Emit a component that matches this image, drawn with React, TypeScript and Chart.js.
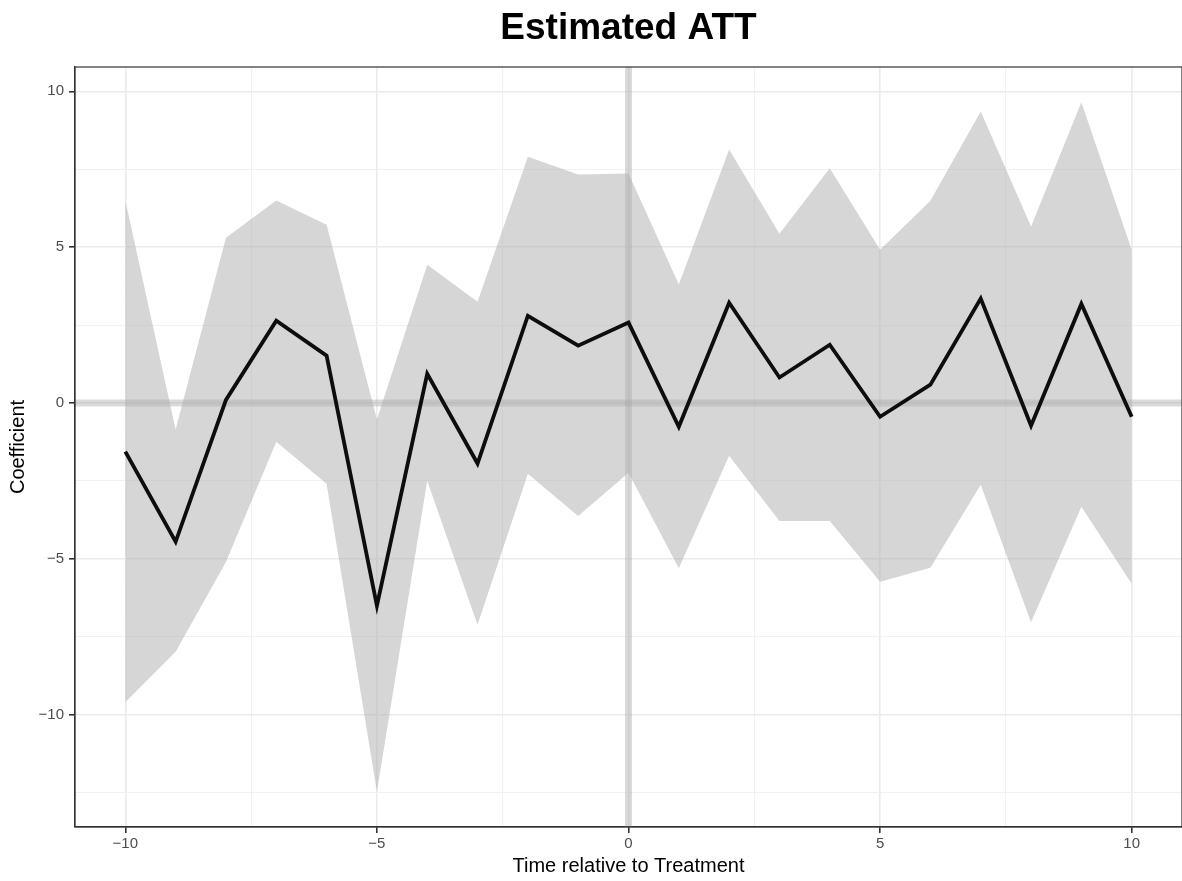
import React, { useEffect, useRef } from 'react';
import { Chart, registerables } from 'chart.js';

Chart.register(...registerables);

const times = [-10, -9, -8, -7, -6, -5, -4, -3, -2, -1, 0, 1, 2, 3, 4, 5, 6, 7, 8, 9, 10];
const coefficient = [-1.56, -4.45, 0.1, 2.64, 1.52, -6.5, 0.94, -1.94, 2.8, 1.84, 2.58, -0.76, 3.22, 0.82, 1.87, -0.44, 0.59, 3.35, -0.73, 3.18, -0.44];
const upperCI = [6.5, -0.85, 5.3, 6.5, 5.72, -0.53, 4.44, 3.25, 7.9, 7.33, 7.36, 3.8, 8.13, 5.43, 7.53, 4.92, 6.49, 9.35, 5.66, 9.65, 4.92];
const lowerCI = [-9.6, -7.98, -5.1, -1.24, -2.59, -12.47, -2.49, -7.11, -2.27, -3.62, -2.24, -5.3, -1.69, -3.78, -3.78, -5.73, -5.28, -2.62, -7.03, -3.33, -5.8];

const xTicks = [-10, -7.5, -5, -2.5, 0, 2.5, 5, 7.5, 10];
const yTicks = [-12.5, -10, -7.5, -5, -2.5, 0, 2.5, 5, 7.5, 10];

const FONT = '"Liberation Sans", Arial, Helvetica, sans-serif';

const isMajor = (v: number) => Math.abs(v % 5) < 1e-9;
const fmt = (v: number) => (v < 0 ? '\u2212' + Math.abs(v) : String(v));

const refPlugin = {
  id: 'refLines',
  beforeDatasetsDraw(chart: any) {
    const { ctx, chartArea: a, scales } = chart;
    const x0 = scales.x.getPixelForValue(0);
    const y0 = scales.y.getPixelForValue(0);
    ctx.save();
    ctx.beginPath();
    ctx.rect(a.left, a.top, a.right - a.left, a.bottom - a.top);
    ctx.clip();
    ctx.strokeStyle = 'rgba(150,150,150,0.35)';
    ctx.lineWidth = 7;
    ctx.beginPath();
    ctx.moveTo(a.left, y0);
    ctx.lineTo(a.right, y0);
    ctx.stroke();
    ctx.beginPath();
    ctx.moveTo(x0, a.top);
    ctx.lineTo(x0, a.bottom);
    ctx.stroke();
    ctx.restore();
  },
  afterDraw(chart: any) {
    const { ctx, chartArea: a } = chart;
    ctx.save();
    ctx.strokeStyle = '#333333';
    ctx.lineWidth = 1.2;
    ctx.strokeRect(a.left, a.top, a.right - a.left, a.bottom - a.top);
    ctx.restore();
  },
};

export default function App() {
  const ref = useRef<HTMLCanvasElement | null>(null);

  useEffect(() => {
    if (!ref.current) return;
    const pts = (arr: number[]) => times.map((t, i) => ({ x: t, y: arr[i] }));
    const gridOpts = {
      color: (c: any) => (c.tick && isMajor(c.tick.value) ? '#ebebeb' : '#f1f1f1'),
      lineWidth: (c: any) => (c.tick && isMajor(c.tick.value) ? 1.6 : 1.1),
      tickColor: (c: any) => (c.tick && isMajor(c.tick.value) ? '#333333' : 'rgba(0,0,0,0)'),
      tickLength: 6,
      drawTicks: true,
    };
    const chart = new Chart(ref.current, {
      type: 'line',
      data: {
        datasets: [
          {
            label: 'upper',
            data: pts(upperCI),
            borderWidth: 0,
            pointRadius: 0,
            backgroundColor: 'rgba(173,173,173,0.5)',
            fill: '+1',
            order: 2,
          },
          {
            label: 'lower',
            data: pts(lowerCI),
            borderWidth: 0,
            pointRadius: 0,
            fill: false,
            order: 2,
          },
          {
            label: 'Coefficient',
            data: pts(coefficient),
            borderColor: '#0d0d0d',
            borderWidth: 3.8,
            pointRadius: 0,
            fill: false,
            order: 0,
          },
        ],
      },
      plugins: [refPlugin],
      options: {
        responsive: false,
        animation: false,
        layout: { padding: 0 },
        plugins: {
          legend: { display: false },
          tooltip: { enabled: false },
          title: {
            display: true,
            text: 'Estimated ATT',
            fullSize: false,
            color: '#000000',
            font: { family: FONT, size: 37, weight: 'bold', lineHeight: 1.2 },
            padding: { top: 7, bottom: 15.6 },
          },
        },
        scales: {
          x: {
            type: 'linear',
            min: -11,
            max: 11,
            afterBuildTicks: (s: any) => {
              s.ticks = xTicks.map((v) => ({ value: v }));
            },
            afterFit: (s: any) => {
              s.height = 54;
            },
            grid: gridOpts,
            border: { display: true, color: '#333333', width: 1.2 },
            ticks: {
              autoSkip: false,
              maxRotation: 0,
              padding: 2,
              color: '#4d4d4d',
              font: { family: FONT, size: 15 },
              callback: (v: any) => (isMajor(Number(v)) ? fmt(Number(v)) : ''),
            },
            title: {
              display: true,
              text: 'Time relative to Treatment',
              color: '#000000',
              font: { family: FONT, size: 20, lineHeight: 1.2 },
              padding: { top: 0, bottom: 3 },
            },
          },
          y: {
            type: 'linear',
            min: -13.6,
            max: 10.78,
            afterBuildTicks: (s: any) => {
              s.ticks = yTicks.map((v) => ({ value: v }));
            },
            afterFit: (s: any) => {
              s.width = 75;
            },
            grid: gridOpts,
            border: { display: true, color: '#333333', width: 1.2 },
            ticks: {
              autoSkip: false,
              padding: 5,
              color: '#4d4d4d',
              font: { family: FONT, size: 15 },
              callback: (v: any) => (isMajor(Number(v)) ? fmt(Number(v)) : ''),
            },
            title: {
              display: true,
              text: 'Coefficient',
              color: '#000000',
              font: { family: FONT, size: 20, lineHeight: 1.2 },
              padding: { top: 6.5, bottom: 0 },
            },
          },
        },
      },
    } as any);
    return () => chart.destroy();
  }, []);

  return (
    <div style={{ position: 'absolute', left: 0, top: 0, width: 1182, height: 881, background: '#ffffff' }}>
      <canvas ref={ref} width={1182} height={881} style={{ display: 'block', width: 1182, height: 881 }} />
    </div>
  );
}
